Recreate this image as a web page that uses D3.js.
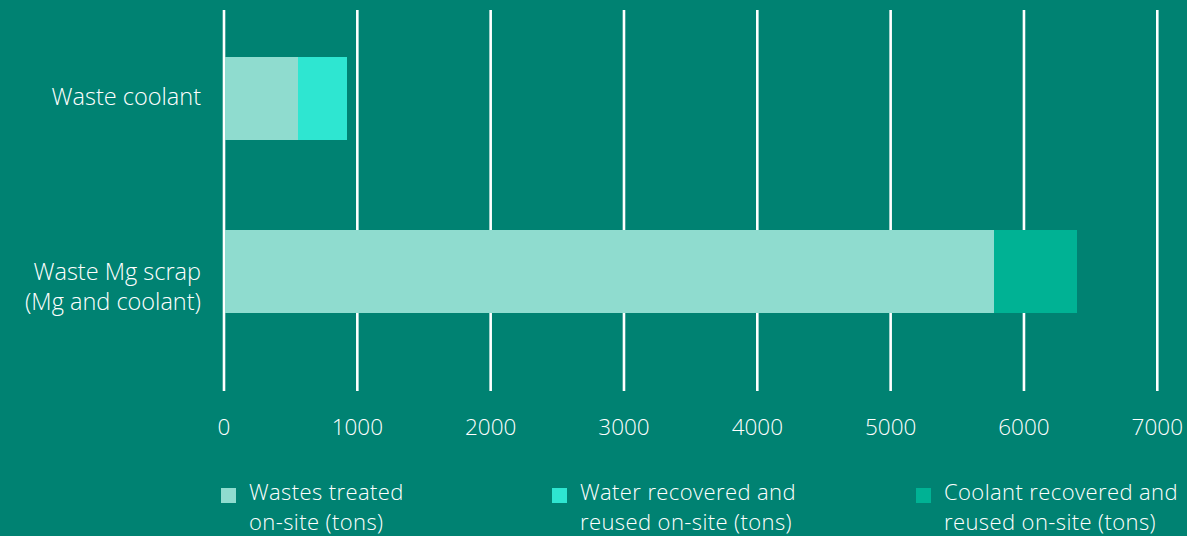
<!DOCTYPE html>
<html><head><meta charset="utf-8">
<script src="https://cdn.jsdelivr.net/npm/d3@7"></script>
<style>
html,body{margin:0;padding:0;background:#008272;}
svg{display:block;}
text{font-family:"Open Sans",sans-serif;fill:#ffffff;font-weight:300;}
</style></head>
<body><svg id="c" width="1187" height="536"></svg>
<script>
const categories = ["Waste coolant", "Waste Mg scrap (Mg and coolant)"];
const categoryLines = [["Waste coolant"], ["Waste Mg scrap", "(Mg and coolant)"]];
const seriesNames = ["Wastes treated on-site (tons)", "Water recovered and reused on-site (tons)", "Coolant recovered and reused on-site (tons)"];
const legendLines = [["Wastes treated", "on-site (tons)"], ["Water recovered and", "reused on-site (tons)"], ["Coolant recovered and", "reused on-site (tons)"]];
const wastesTreated = [552, 5772];
const waterRecovered = [370, 0];
const coolantRecovered = [0, 622];
const tickValues = [0, 1000, 2000, 3000, 4000, 5000, 6000, 7000];
const colors = ["#8fdccf", "#2ee6d1", "#00b294"];

const svg = d3.select("#c");
const x = d3.scaleLinear().domain([0, 7000]).range([224, 1157.3]);
const y = d3.scalePoint().domain(categories).range([98.3, 271.4]);
const barH = 83;

const rows = categories.map((c, i) => ({cat: c, vals: [wastesTreated[i], waterRecovered[i], coolantRecovered[i]]}));
const stack = d3.stack().keys([0, 1, 2]).value((d, k) => d.vals[k]);
const layers = stack(rows);

// grid
svg.append("g").selectAll("line").data(tickValues).join("line")
  .attr("x1", d => x(d)).attr("x2", d => x(d))
  .attr("y1", 10).attr("y2", 391)
  .attr("stroke", "#ffffff").attr("stroke-width", 2.6);

// bars
svg.append("g").attr("shape-rendering", "crispEdges").selectAll("g").data(layers).join("g")
  .attr("fill", (d, i) => colors[i])
  .selectAll("rect").data(d => d).join("rect")
  .attr("x", d => x(d[0]) + (d[0] === 0 ? 1.3 : 0))
  .attr("width", d => Math.max(0, x(d[1]) - x(d[0]) - (d[0] === 0 ? 1.3 : 0)))
  .attr("y", d => y(d.data.cat) - barH / 2)
  .attr("height", d => (d[1] - d[0]) > 0 ? barH : 0);

// tick labels
svg.append("g").selectAll("text").data(tickValues).join("text")
  .attr("x", d => x(d)).attr("y", 435)
  .attr("text-anchor", "middle").attr("font-size", 22.5)
  .text(d => d);

// category labels
const cl = svg.append("g").selectAll("text").data(categories).join("text")
  .attr("text-anchor", "end").attr("font-size", 23.5);
cl.each(function(d, i) {
  const lines = categoryLines[i];
  const base = lines.length === 1 ? y(d) + 7 : y(d) + 8.8;
  d3.select(this).selectAll("tspan").data(lines).join("tspan")
    .attr("x", 201).attr("y", (t, j) => base + j * 30).text(t => t);
});

// legend
const legX = [221, 552, 916];
const lg = svg.append("g").selectAll("g").data(seriesNames).join("g")
  .attr("transform", (d, i) => `translate(${legX[i]},0)`);
lg.append("rect").attr("x", 0).attr("y", 488).attr("width", 15).attr("height", 15)
  .attr("fill", (d, i) => colors[i]);
lg.append("text").attr("font-size", 22).attr("letter-spacing", 0.4).each(function(d, i) {
  d3.select(this).selectAll("tspan").data(legendLines[i]).join("tspan")
    .attr("x", 28).attr("y", (t, j) => 500 + j * 29.8).text(t => t);
});
</script></body></html>
